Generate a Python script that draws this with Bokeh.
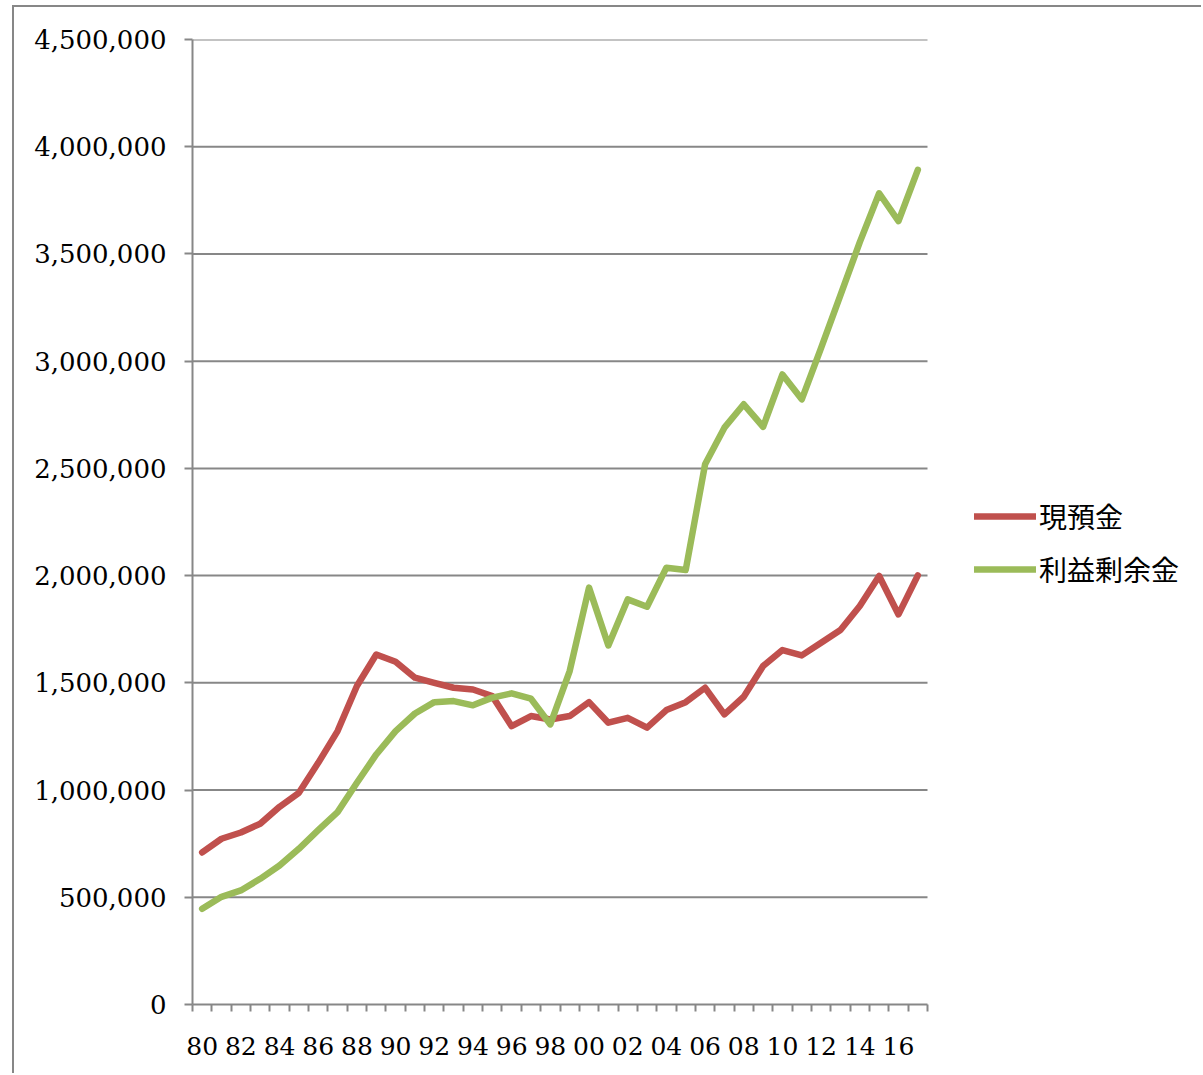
from bokeh.plotting import figure
from bokeh.models import (FixedTicker, NumeralTickFormatter, Legend, LegendItem,
                          Range1d)
from bokeh.embed import file_html
from bokeh.resources import INLINE

# Fiscal years 1980-2017
years = list(range(1980, 2018))

# 現預金 (cash and deposits)
cash = [709000, 773000, 802000, 843000, 922000, 987000, 1127000, 1275000,
        1485000, 1632000, 1598000, 1524000, 1500000, 1477000, 1469000, 1438000,
        1298000, 1345000, 1329000, 1345000, 1410000, 1314000, 1337000, 1291000,
        1373000, 1410000, 1477000, 1353000, 1435000, 1578000, 1653000, 1628000,
        1687000, 1746000, 1858000, 1998000, 1819000, 2001000]

# 利益剰余金 (retained earnings)
retained = [446000, 502000, 532000, 586000, 648000, 726000, 813000, 897000,
            1034000, 1166000, 1275000, 1357000, 1410000, 1415000, 1395000, 1431000,
            1451000, 1426000, 1306000, 1555000, 1944000, 1674000, 1889000, 1855000,
            2037000, 2026000, 2519000, 2690000, 2799000, 2694000, 2938000, 2822000,
            3062000, 3308000, 3555000, 3783000, 3653000, 3892000]

y_ticks = [0, 500000, 1000000, 1500000, 2000000, 2500000, 3000000, 3500000,
           4000000, 4500000]
x_label_years = list(range(1980, 2018, 2))

GRAY = "#878787"
RED = "#C0504D"
GREEN = "#9BBB59"

# plot area: 735 px for the 38 year slots, extra room on the right for the legend
slot_px = 735 / len(years)
x_start = years[0] - 0.5
x_end_axis = years[-1] + 0.5
frame_w = 995
x_end_view = x_start + frame_w / slot_px

p = figure(width=1189, height=1068, output_backend="svg", toolbar_location=None,
           x_range=Range1d(x_start, x_end_view), y_range=Range1d(0, 4500000),
           min_border_left=178, min_border_top=32, min_border_right=1189 - 178 - frame_w,
           min_border_bottom=71)
p.styles = {"border-top": f"2px solid {GRAY}", "border-left": f"2px solid {GRAY}",
            "margin-left": "12px", "margin-top": "5px"}
p.outline_line_color = None
p.background_fill_color = "white"
p.border_fill_color = "white"

# value axis
yax = p.yaxis[0]
yax.ticker = FixedTicker(ticks=y_ticks)
yax.formatter = NumeralTickFormatter(format="0,0")
yax.axis_line_color = GRAY
yax.axis_line_width = 2
yax.major_tick_line_color = GRAY
yax.major_tick_line_width = 2
yax.major_tick_out = 8
yax.major_tick_in = 0
yax.minor_tick_line_color = None
yax.major_label_standoff = 18
yax.major_label_text_font = "DejaVu Serif"
yax.major_label_text_font_size = "26px"
yax.major_label_text_color = "#000000"

# year axis: labels every other year, tick marks between year slots
xax = p.xaxis[0]
xax.bounds = (x_start, x_end_axis)
xax.ticker = FixedTicker(ticks=x_label_years,
                         minor_ticks=[y - 0.5 for y in years] + [x_end_axis])
xax.major_label_overrides = {y: f"{y % 100:02d}" for y in x_label_years}
xax.axis_line_color = GRAY
xax.axis_line_width = 2
xax.major_tick_line_color = None
xax.major_tick_out = 0
xax.major_tick_in = 0
xax.minor_tick_line_color = GRAY
xax.minor_tick_line_width = 2
xax.minor_tick_out = 7
xax.minor_tick_in = 0
xax.major_label_standoff = 25
xax.major_label_text_font = "DejaVu Serif"
xax.major_label_text_font_size = "25px"
xax.major_label_text_color = "#000000"

# horizontal gridlines spanning only the year slots
p.xgrid.grid_line_color = None
p.ygrid.grid_line_color = None
grid_y = y_ticks[1:]
p.segment(x0=[x_start] * len(grid_y), x1=[x_end_axis] * len(grid_y),
          y0=grid_y, y1=grid_y, line_color=GRAY, line_width=2, level="underlay")

r_cash = p.line(years, cash, line_color=RED, line_width=6.5, line_join="round",
                line_cap="round")
r_ret = p.line(years, retained, line_color=GREEN, line_width=6.5, line_join="round",
               line_cap="round")

legend = Legend(items=[LegendItem(label="現預金", renderers=[r_cash]),
                       LegendItem(label="利益剰余金", renderers=[r_ret])],
                location=(782, 415), orientation="vertical")
legend.glyph_width = 62
legend.glyph_height = 34
legend.label_height = 34
legend.spacing = 13
legend.padding = 0
legend.margin = 0
legend.label_standoff = 3
legend.border_line_color = None
legend.background_fill_alpha = 0
legend.label_text_font = "Noto Sans CJK JP"
legend.label_text_font_size = "28px"
legend.label_text_color = "#000000"
legend.label_text_baseline = "middle"
p.add_layout(legend, "center")

open("out.html", "w").write(file_html(p, INLINE))
